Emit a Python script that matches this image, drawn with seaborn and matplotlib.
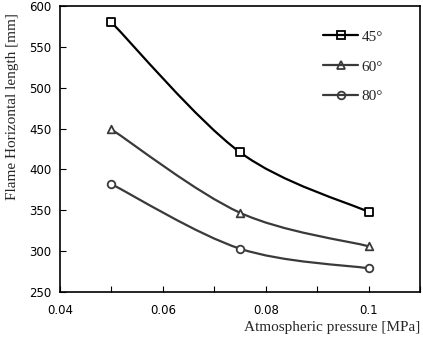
import matplotlib
matplotlib.use("Agg")
import matplotlib.pyplot as plt
from matplotlib.path import Path
from matplotlib.patches import PathPatch
from matplotlib.lines import Line2D
import seaborn as sns
import pandas as pd

sns.set_theme(style="ticks")
plt.rcParams['font.family'] = ['DejaVu Sans']

# data
pressure = [0.05, 0.075, 0.1]
len_45 = [580, 421, 348]
len_60 = [449, 347, 306]
len_80 = [382, 303, 279]
labels = ['45°', '60°', '80°']
markers = ['s', '^', 'o']
colors = ['#000000', '#3a3a3a', '#3a3a3a']

serif = ['Liberation Serif', 'DejaVu Serif']


def smooth_path(xs, ys):
    # Excel-style smoothed line: cubic bezier with catmull-rom control points
    pts = list(zip(xs, ys))
    verts = [pts[0]]
    codes = [Path.MOVETO]
    n = len(pts)
    for i in range(n - 1):
        p0 = pts[i - 1] if i > 0 else pts[i]
        p1 = pts[i]
        p2 = pts[i + 1]
        p3 = pts[i + 2] if i + 2 < n else pts[i + 1]
        c1 = (p1[0] + (p2[0] - p0[0]) / 6, p1[1] + (p2[1] - p0[1]) / 6)
        c2 = (p2[0] - (p3[0] - p1[0]) / 6, p2[1] - (p3[1] - p1[1]) / 6)
        verts += [c1, c2, p2]
        codes += [Path.CURVE4] * 3
    return Path(verts, codes)


fig = plt.figure(figsize=(4.23, 3.38), dpi=100)
ax = fig.add_axes([60 / 423, 1 - 292 / 338, 360 / 423, 286 / 338])

handles = []
for ys, lab, m, c in zip([len_45, len_60, len_80], labels, markers, colors):
    df = pd.DataFrame({'x': pressure, 'y': ys})
    ax.add_patch(PathPatch(smooth_path(pressure, ys), fill=False,
                           edgecolor=c, lw=1.6, zorder=2))
    sns.scatterplot(data=df, x='x', y='y', marker=m, s=30, color='white',
                    edgecolor=c, linewidth=1.3, zorder=3, ax=ax, legend=False)
    handles.append(Line2D([], [], color=c, lw=1.6, marker=m, markersize=5.5,
                          mfc='none', mec=c, mew=1.3, label=lab))

ax.set_xlim(0.04, 0.11)
ax.set_ylim(250, 600)
ax.set_xticks([0.04, 0.05, 0.06, 0.07, 0.08, 0.09, 0.1, 0.11])
ax.set_xticklabels(['0.04', '', '0.06', '', '0.08', '', '0.1', ''])
ax.set_yticks(range(250, 601, 50))
ax.tick_params(direction='in', length=4, width=0.8, labelsize=8.5,
               colors='black', pad=6)
ax.tick_params(axis='x', pad=9)
for sp in ax.spines.values():
    sp.set_visible(True)
    sp.set_color('black')
    sp.set_linewidth(1.2)

ax.set_xlabel('')
ax.set_ylabel('')
fig.text(420 / 423, 1 - 327 / 338, 'Atmospheric pressure [MPa]', family=serif,
         fontsize=11, ha='right', va='center')
fig.text(13 / 423, 1 - 107 / 338, 'Flame Horizontal length [mm]', family=serif,
         fontsize=11, ha='center', va='center', rotation=90)

ax.legend(handles=handles, loc='upper left', bbox_to_anchor=(317 / 423, 1 - 24 / 338),
          bbox_transform=fig.transFigure, frameon=False, prop={'family': serif, 'size': 11},
          labelspacing=1.05, handlelength=2.3, handletextpad=0.2, borderaxespad=0)

fig.savefig('out.png', dpi=100)
